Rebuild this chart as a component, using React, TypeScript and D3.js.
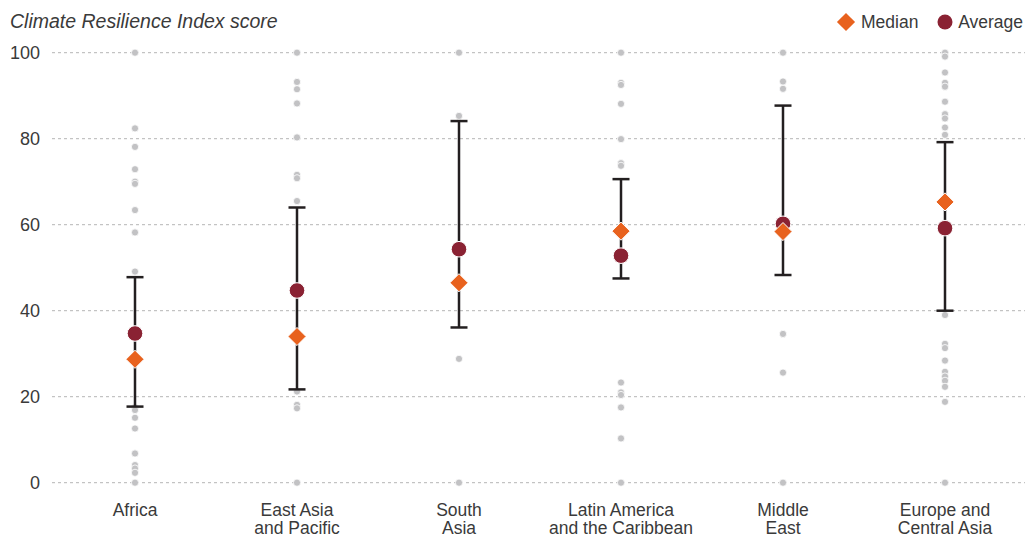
import React from "react";
import * as d3 from "d3";

const categories = [
  "Africa",
  "East Asia\nand Pacific",
  "South\nAsia",
  "Latin America\nand the Caribbean",
  "Middle\nEast",
  "Europe and\nCentral Asia",
];

const countryScores: number[][] = [
  [100, 82.4, 78.1, 72.9, 70.0, 69.5, 63.4, 58.2, 49.1, 17.5, 16.9, 15.1, 12.6, 6.8, 4.1, 3.3, 2.3, 0],
  [100, 93.2, 91.5, 88.2, 80.3, 71.6, 70.8, 65.5, 21.2, 18.1, 17.3, 0],
  [100, 85.3, 28.8, 0],
  [100, 93.0, 92.5, 88.1, 79.9, 74.3, 73.7, 23.3, 21.0, 20.4, 17.5, 10.3, 0],
  [100, 93.3, 91.6, 34.6, 25.6, 0],
  [100, 99.1, 95.4, 93.0, 92.1, 88.6, 85.7, 84.7, 82.6, 80.9, 39.0, 32.3, 31.3, 28.4, 25.8, 24.7, 23.7, 22.3, 18.8, 0],
];

const medians = [28.7, 34.0, 46.5, 58.5, 58.4, 65.3];
const averages = [34.7, 44.7, 54.3, 52.8, 60.2, 59.2];
const barHigh = [47.8, 64.0, 84.1, 70.6, 87.7, 79.2];
const barLow = [17.7, 21.7, 36.1, 47.5, 48.3, 40.0];

const yTicks = [0, 20, 40, 60, 80, 100];

const W = 1025;
const H = 538;
const FONT = "'Liberation Sans', Arial, sans-serif";
const TEXT = "#3a3a3a";
const MEDIAN_C = "#e8621e";
const AVG_C = "#8a2233";

export default function App() {
  const x = d3.scalePoint<string>().domain(categories).range([54, 1026]).padding(0.5);
  const y = d3.scaleLinear().domain([0, 100]).range([482.7, 52.7]);
  const diamond = d3.symbol().type(d3.symbolDiamond2).size(210)();

  return (
    <svg
      width={W}
      height={H}
      style={{ position: "absolute", left: 0, top: 0, background: "#fff" }}
      fontFamily={FONT}
    >
      <text x={10} y={28} fontSize={19.5} fontStyle="italic" fill={TEXT}>
        Climate Resilience Index score
      </text>

      {/* legend */}
      <g transform="translate(846,22)">
        <path d={diamond} fill={MEDIAN_C} />
        <text x={15} y={6} fontSize={17.5} fill={TEXT}>Median</text>
      </g>
      <g transform="translate(945,22)">
        <circle r={7.5} fill={AVG_C} />
        <text x={78} y={6} fontSize={17.5} textAnchor="end" fill={TEXT}>Average</text>
      </g>

      {/* grid */}
      {yTicks.map((t) => (
        <g key={t}>
          <line
            x1={52}
            x2={1025}
            y1={y(t)}
            y2={y(t)}
            stroke="#b5b5b5"
            strokeWidth={1}
            strokeDasharray="3 3"
          />
          <text x={40} y={y(t) + 6.5} fontSize={18} textAnchor="end" fill={TEXT}>
            {t}
          </text>
        </g>
      ))}

      {/* category labels */}
      {categories.map((c) => (
        <text key={c} x={x(c)} y={516} fontSize={17.5} textAnchor="middle" fill={TEXT}>
          {c.split("\n").map((line, i) => (
            <tspan key={i} x={x(c)} dy={i === 0 ? 0 : 18}>
              {line}
            </tspan>
          ))}
        </text>
      ))}

      {/* country dots */}
      {categories.map((c, ci) =>
        countryScores[ci].map((v, i) => (
          <circle
            key={c + i}
            cx={x(c)}
            cy={y(v)}
            r={3.6}
            fill="#c2c2c4"
            stroke="#fff"
            strokeWidth={0.8}
          />
        ))
      )}

      {/* error bars */}
      {categories.map((c, ci) => {
        const cx = x(c) as number;
        return (
          <g key={"eb" + c} stroke="#231f20" strokeWidth={2.5}>
            <line x1={cx} x2={cx} y1={y(barLow[ci])} y2={y(barHigh[ci])} />
            <line x1={cx - 8.5} x2={cx + 8.5} y1={y(barLow[ci])} y2={y(barLow[ci])} />
            <line x1={cx - 8.5} x2={cx + 8.5} y1={y(barHigh[ci])} y2={y(barHigh[ci])} />
          </g>
        );
      })}

      {/* averages */}
      {categories.map((c, ci) => (
        <circle
          key={"avg" + c}
          cx={x(c)}
          cy={y(averages[ci])}
          r={7.8}
          fill={AVG_C}
          stroke="#fff"
          strokeWidth={1}
        />
      ))}

      {/* medians */}
      {categories.map((c, ci) => (
        <path
          key={"med" + c}
          d={diamond}
          transform={`translate(${x(c)},${y(medians[ci])})`}
          fill={MEDIAN_C}
          stroke="#fff"
          strokeWidth={1}
        />
      ))}
    </svg>
  );
}
